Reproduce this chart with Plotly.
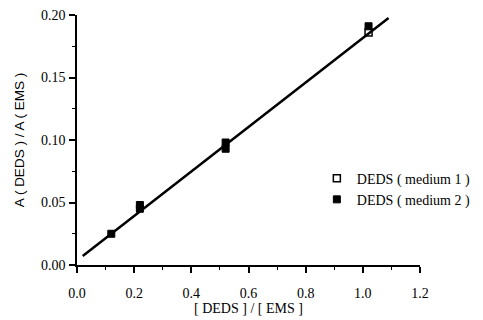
import plotly.graph_objects as go

# Data
m1_x = [1.02]
m1_y = [0.186]
m2_x = [0.12, 0.22, 0.22, 0.52, 0.52, 1.02]
m2_y = [0.025, 0.045, 0.048, 0.093, 0.098, 0.191]
fit_x = [0.02, 1.09]
fit_slope = 0.178
fit_intercept = 0.0036
fit_y = [fit_slope * v + fit_intercept for v in fit_x]

x_ticks = [0.0, 0.2, 0.4, 0.6, 0.8, 1.0, 1.2]
y_ticks = [0.00, 0.05, 0.10, 0.15, 0.20]

serif = "Liberation Serif, Times New Roman, serif"
sans = "Liberation Sans, Arial, sans-serif"

fig = go.Figure()
fig.add_trace(go.Scatter(x=fit_x, y=fit_y, mode="lines",
                         line=dict(color="black", width=2.5), showlegend=False,
                         hoverinfo="skip"))
fig.add_trace(go.Scatter(x=m2_x, y=m2_y, mode="markers", name="DEDS ( medium 2 )",
                         marker=dict(symbol="square", size=7, color="black",
                                     line=dict(color="black", width=1))))
fig.add_trace(go.Scatter(x=m1_x, y=m1_y, mode="markers", name="DEDS ( medium 1 )",
                         marker=dict(symbol="square-open", size=7, color="black",
                                     line=dict(color="black", width=1.5))))

fig.update_layout(
    width=483, height=320,
    margin=dict(l=77, r=63, t=15, b=55, autoexpand=False),
    paper_bgcolor="white", plot_bgcolor="white",
    font=dict(family=serif, color="black", size=13),
    legend=dict(xref="container", yref="container", x=0.656, y=0.492,
                xanchor="left", yanchor="top",
                traceorder="reversed", bgcolor="rgba(0,0,0,0)",
                font=dict(family=serif, size=14), itemwidth=30,
                tracegroupgap=0),
    xaxis=dict(range=[0, 1.2], tickvals=x_ticks,
               ticktext=[f"{v:.1f}" for v in x_ticks],
               showgrid=False, zeroline=False, showline=True,
               linecolor="black", linewidth=1.5,
               ticks="outside", ticklen=6, tickwidth=1.5, tickcolor="black",
               ticklabelstandoff=8, automargin=False,
               minor=dict(dtick=0.1, ticks="outside", ticklen=3, tickwidth=1.2, tickcolor="black"),
               title=dict(text="[ DEDS ] / [ EMS ]", font=dict(family=serif, size=14), standoff=2),
               tickfont=dict(family=serif, size=14)),
    yaxis=dict(range=[0, 0.2], tickvals=y_ticks,
               ticktext=[f"{v:.2f}" for v in y_ticks],
               showgrid=False, zeroline=False, showline=True,
               linecolor="black", linewidth=1.5,
               ticks="outside", ticklen=6, tickwidth=1.5, tickcolor="black",
               ticklabelstandoff=1, automargin=False,
               minor=dict(dtick=0.025, ticks="outside", ticklen=3, tickwidth=1.2, tickcolor="black"),
               title=dict(text="A ( DEDS ) / A ( EMS )", font=dict(family=sans, size=13.5), standoff=13),
               tickfont=dict(family=serif, size=14)),
)

fig.write_html("out.html")
